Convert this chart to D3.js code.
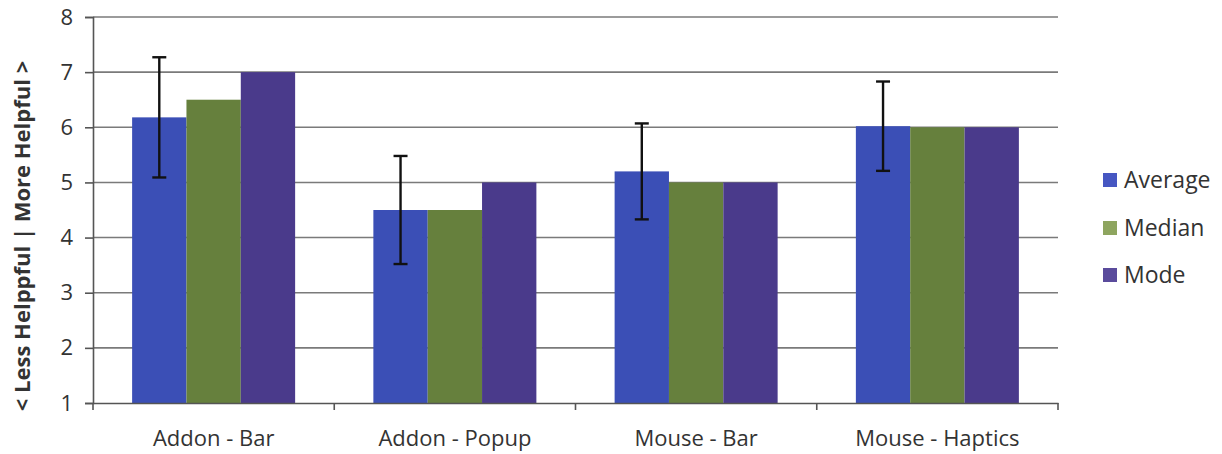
<!DOCTYPE html>
<html>
<head>
<meta charset="utf-8">
<script src="https://cdn.jsdelivr.net/npm/d3@7"></script>
<style>
  html, body { margin: 0; padding: 0; background: #fff; }
  svg { display: block; font-family: "Open Sans", "Noto Sans", sans-serif; }
</style>
</head>
<body>
<svg id="chart" width="1222" height="454"></svg>
<script>
// Helpfulness ratings per interface condition
const categories = ["Addon - Bar", "Addon - Popup", "Mouse - Bar", "Mouse - Haptics"];
const seriesNames = ["Average", "Median", "Mode"];
const averageValues = [6.18, 4.5, 5.2, 6.02];
const averageErrors = [1.09, 0.98, 0.87, 0.81];
const medianValues = [6.5, 4.5, 5, 6];
const modeValues = [7, 5, 5, 6];
const yTicks = [1, 2, 3, 4, 5, 6, 7, 8];

const barColors = ["#3b4fb6", "#66803d", "#4a3a8b"];
const legendColors = ["#4657c2", "#8ea55f", "#5a4b9c"];

const svg = d3.select("#chart");
const margin = { left: 93, right: 164, top: 17, bottom: 51 };
const W = 1222, H = 454;
const x0 = margin.left, x1 = W - margin.right;
const yTop = margin.top, yBot = H - margin.bottom;

const x = d3.scaleBand().domain(categories).range([x0, x1]).paddingInner(0).paddingOuter(0);
const xs = d3.scaleBand().domain(seriesNames).range([0, x.bandwidth()]).paddingInner(0).paddingOuter(0.72);
const y = d3.scaleLinear().domain([1, 8]).range([yBot, yTop]);

// horizontal gridlines
svg.append("g")
  .selectAll("line")
  .data(yTicks.filter(t => t > 1))
  .join("line")
  .attr("x1", x0).attr("x2", x1)
  .attr("y1", d => y(d)).attr("y2", d => y(d))
  .attr("stroke", "#7a7a7a").attr("stroke-width", 1.6);

// bars
const seriesData = [averageValues, medianValues, modeValues];
const groups = svg.append("g")
  .selectAll("g")
  .data(categories)
  .join("g")
  .attr("transform", d => `translate(${x(d)},0)`);

groups.selectAll("rect")
  .data((c, i) => seriesNames.map((s, k) => ({ s, k, v: seriesData[k][i] })))
  .join("rect")
  .attr("x", d => xs(d.s))
  .attr("width", xs.bandwidth())
  .attr("y", d => y(d.v))
  .attr("height", d => y(1) - y(d.v))
  .attr("fill", d => barColors[d.k]);

// error bars on the average
const cap = 7;
groups.each(function(c, i) {
  const g = d3.select(this);
  const cx = xs("Average") + xs.bandwidth() / 2;
  const hi = y(averageValues[i] + averageErrors[i]);
  const lo = y(averageValues[i] - averageErrors[i]);
  g.append("line").attr("x1", cx).attr("x2", cx).attr("y1", hi).attr("y2", lo)
    .attr("stroke", "#111").attr("stroke-width", 2.4);
  [hi, lo].forEach(yy => g.append("line")
    .attr("x1", cx - cap).attr("x2", cx + cap).attr("y1", yy).attr("y2", yy)
    .attr("stroke", "#111").attr("stroke-width", 2.4));
});

// y axis
const yAxis = svg.append("g")
  .attr("transform", `translate(${x0},0)`)
  .call(d3.axisLeft(y).tickValues(yTicks).tickSize(8).tickPadding(12).tickFormat(d3.format("d")));
yAxis.select(".domain").attr("stroke", "#555").attr("stroke-width", 1.6);
yAxis.selectAll(".tick line").attr("stroke", "#555").attr("stroke-width", 1.6);
yAxis.selectAll(".tick text").attr("font-size", 22).attr("fill", "#333")
  .attr("font-family", "'Open Sans', sans-serif");

// x axis
const xAxis = svg.append("g")
  .attr("transform", `translate(0,${yBot})`)
  .call(d3.axisBottom(x).tickSize(0).tickPadding(27));
xAxis.select(".domain").attr("stroke", "#555").attr("stroke-width", 1.6);
xAxis.selectAll(".tick text").attr("font-size", 22).attr("fill", "#333")
  .attr("font-family", "'Open Sans', sans-serif");
// category boundary ticks
svg.append("g").selectAll("line")
  .data(categories.map(c => x(c)).concat([x1]))
  .join("line")
  .attr("x1", d => d).attr("x2", d => d)
  .attr("y1", yBot).attr("y2", yBot + 7)
  .attr("stroke", "#555").attr("stroke-width", 1.6);

// y axis title
svg.append("text")
  .attr("transform", `translate(30,${(yTop + yBot) / 2 + 26}) rotate(-90)`)
  .attr("text-anchor", "middle")
  .attr("font-size", 22).attr("font-weight", "bold").attr("fill", "#333")
  .text("< Less Helppful | More Helpful >");

// legend
const legend = svg.append("g").attr("transform", "translate(1103,0)");
const legendY = [180, 228, 275];
seriesNames.forEach((s, k) => {
  legend.append("rect").attr("x", 0).attr("y", legendY[k] - 7).attr("width", 14).attr("height", 14)
    .attr("fill", legendColors[k]);
  legend.append("text").attr("x", 21).attr("y", legendY[k]).attr("dy", "0.35em")
    .attr("font-size", 23).attr("fill", "#333").text(s);
});
</script>
</body>
</html>
